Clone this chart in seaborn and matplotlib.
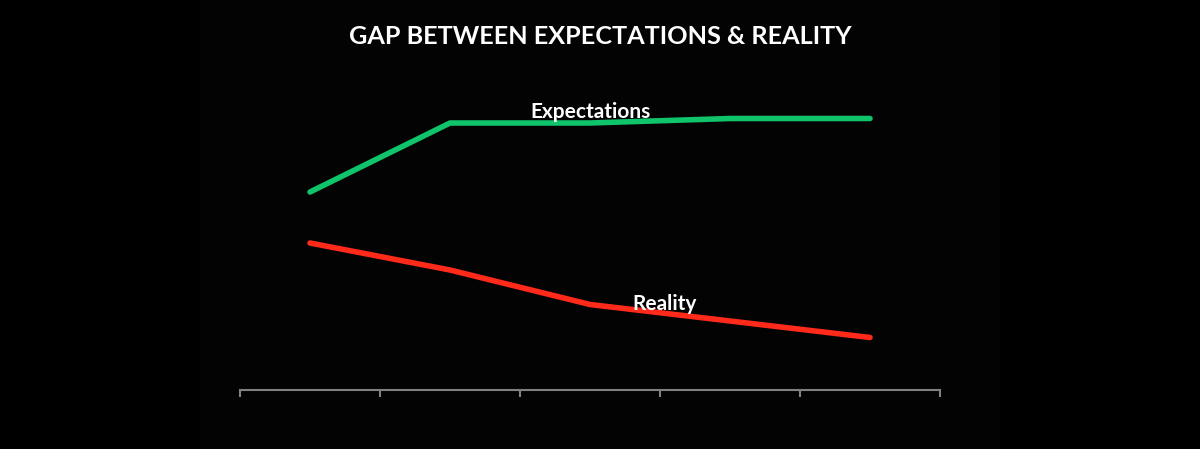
import numpy as np
import pandas as pd
import matplotlib
matplotlib.use("Agg")
import matplotlib.pyplot as plt
import matplotlib.patches as mpatches
import seaborn as sns

# ── Data (arbitrary 0-100 scale) ─────────────────────────────────────────────
periods      = ["P1", "P2", "P3", "P4", "P5"]
expectations = [66, 89, 89, 90.5, 90.5]
reality      = [49, 40, 28.5, 23, 17.5]

df = pd.DataFrame({
    "period": periods * 2,
    "value":  expectations + reality,
    "series": ["Expectations"] * len(periods) + ["Reality"] * len(periods),
})
df["x"] = df["period"].map({p: i for i, p in enumerate(periods)})

sns.set_theme(style="dark")
plt.rcParams["font.family"] = ["Lato", "DejaVu Sans"]

fig = plt.figure(figsize=(12, 4.49), dpi=100, facecolor="#000000")
# faintly lighter slide panel behind the chart
fig.patches.append(mpatches.Rectangle((200 / 1200, 0), 800 / 1200, 1,
                                      transform=fig.transFigure,
                                      facecolor="#030303", edgecolor="none",
                                      zorder=-1))
ax = fig.add_axes([240 / 1200, 59 / 449, 700 / 1200, 300 / 449])
ax.set_zorder(2)
ax.set_facecolor("none")

sns.lineplot(data=df, x="x", y="value", hue="series",
             palette={"Expectations": "#0fc46a", "Reality": "#ff2a1a"},
             linewidth=4, legend=False, ax=ax, solid_capstyle="round")

ax.set_xlim(-0.5, len(periods) - 0.5)
ax.set_ylim(0, 100)
ax.set_xticks(np.arange(-0.5, len(periods), 1.0))
ax.set_xticklabels([])
ax.set_yticks([])
ax.set_xlabel("")
ax.set_ylabel("")
ax.grid(False)
for side in ["top", "right", "left"]:
    ax.spines[side].set_visible(False)
ax.spines["bottom"].set_color("#808080")
ax.spines["bottom"].set_linewidth(1.5)
ax.tick_params(axis="x", colors="#808080", direction="out", length=5,
               width=1.5, bottom=True)

ax.text(2.0, 89.3, "Expectations", color="white", fontsize=15,
        ha="center", va="bottom", fontweight="bold")
ax.text(2.53, 25.2, "Reality", color="white", fontsize=15,
        ha="center", va="bottom", fontweight="bold")

fig.text(0.5, 0.918, "GAP BETWEEN EXPECTATIONS & REALITY", color="white",
         fontsize=18.2, fontweight="bold", ha="center", va="center")

fig.savefig("out.png", dpi=100, facecolor=fig.get_facecolor())
